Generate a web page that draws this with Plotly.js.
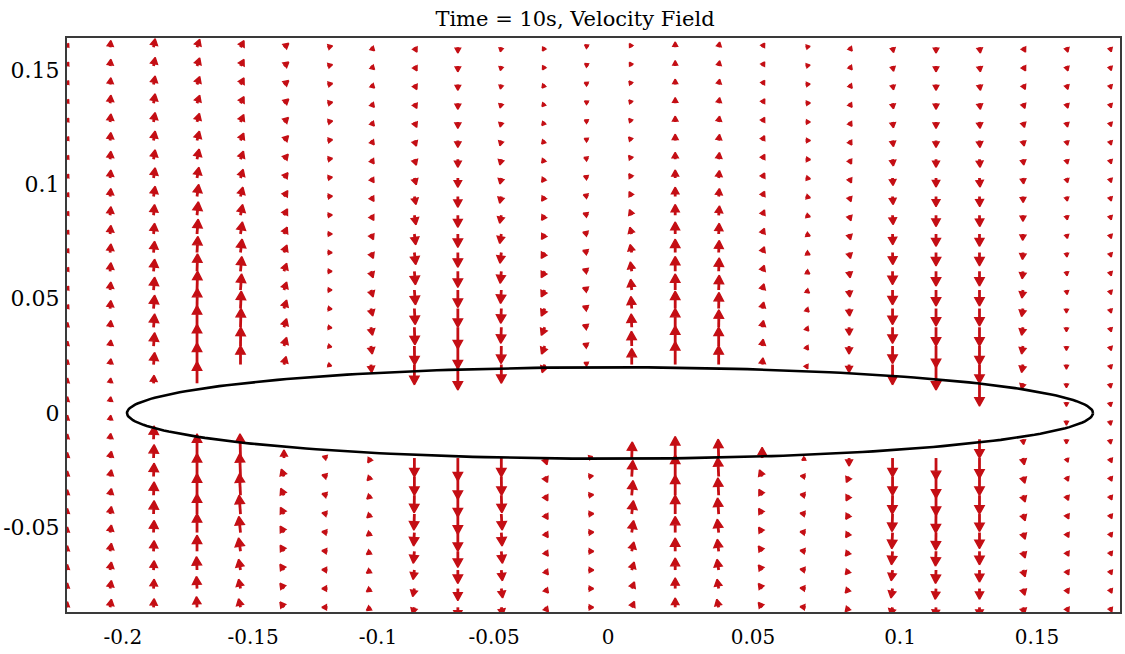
<!DOCTYPE html>
<html><head><meta charset="utf-8">
<script src="https://cdn.plot.ly/plotly-3.0.1.min.js"></script>
<style>html,body{margin:0;padding:0;background:#fff;}#chart{width:1125px;height:654px;}</style>
</head><body><div id="chart"></div>
<script>
// ---- data ----
const titleText = 'Time = 10s, Velocity Field';
const xGrid = [-0.225,-0.207,-0.189,-0.171,-0.153,-0.135,-0.117,-0.099,-0.081,-0.063,-0.045,-0.027,-0.009,0.009,0.027,0.045,0.063,0.081,0.099,0.117,0.135,0.153,0.171,0.189,0.207];
const yGrid = [0.1600,0.1518,0.1437,0.1355,0.1273,0.1192,0.1110,0.1028,0.0947,0.0865,0.0783,0.0702,0.0620,0.0538,0.0457,0.0375,0.0293,0.0212,0.0130,0.0048,-0.0033,-0.0115,-0.0197,-0.0278,-0.0360,-0.0442,-0.0523,-0.0605,-0.0687,-0.0768,-0.0850];
// vertical component per column (top row first)
const vCols = [
[0.6,0.6,0.6,0.6,0.6,0.6,0.6,0.6,0.6,0.6,0.6,0.6,0.6,0.6,0.6,1.2,1.2,1.2,1.5,1.5,1.5,1.5,1.8,1.8,1.8,1.8,1.8,1.8,1.8,1.8,1.8],
[2.5,2.5,2.5,3,3,3,3,3,3,3.2,3.2,3.2,3.2,3,3,2.5,2.2,2,1.5,1.5,1.5,2,2.5,2.5,2.5,2.8,2.8,3,3,3,3],
[3.2,3.2,3.2,3.5,3.5,3.5,3.5,3.8,3.8,4,4,4.2,4.5,4.8,5,5,5,4.5,3,0,0,5,5,5,5,5,4.5,4,3.5,3.5,3.2],
[3,3,3,3,3.2,3.5,3.8,4,4.5,5,5.5,6,6.5,7,7.5,8,8,8,8,0,0,0,9,8.5,8,7.5,7,6,5,4.5,4],
[2.5,2.5,2.5,2.5,2.8,2.8,3,3.2,3.5,4,4.5,5,5.5,6,6.5,7,7,7,0,0,0,0,9,8.5,8,7,6,5,4,3.5,3.2],
[1.5,1.5,1.5,1.6,1.7,1.8,1.9,2,2.2,2.4,2.6,2.8,3,3,3.2,3.2,3.2,3,0,0,0,0,3,2.8,2.6,2.5,2.4,2.3,2.2,2,2],
[0.4,0.4,0.3,0.3,0.3,0.2,0.2,0.2,0.1,0.1,0,0,0,0,-0.1,-0.1,-0.2,-0.2,0,0,0,0,0.5,0.5,0.5,0.4,0.3,0.2,0.1,0,0],
[-1,-1,-1,-1.2,-1.2,-1.3,-1.4,-1.5,-1.6,-1.8,-2,-2.2,-2.4,-2.6,-2.8,-3,-3,-3,0,0,0,0,-1.5,-1.3,-1.2,-1.2,-1.1,-1,-1,-1,-1],
[-1.5,-1.5,-1.6,-1.7,-1.8,-2,-2.2,-2.5,-3,-3.5,-4,-4.5,-5,-5.5,-6,-6.5,-7,-7.5,0,0,0,0,-7,-7,-6.5,-6,-5,-4.5,-3.5,-3,-2.5],
[-2,-2,-2,-2.2,-2.4,-2.6,-3,-3.5,-4,-4.5,-5,-5.5,-6,-6.5,-7,-8,-8.5,-9.5,0,0,0,0,-8.5,-8.5,-8,-7.5,-7,-6,-5,-4.5,-4],
[-1,-1,-1,-1.2,-1.3,-1.5,-2,-2.2,-2.5,-3,-3.5,-4,-4.5,-5,-5.5,-6,-6.5,-7,0,0,0,0,-7,-7,-6.5,-6,-5,-4.5,-4,-3.5,-3],
[-0.5,-0.5,-0.5,-0.6,-0.7,-0.8,-1,-1.2,-1.5,-1.7,-2,-2.2,-2.4,-2.6,-2.8,-3,-3,-3,0,0,0,0,-2.5,-2.2,-2,-2,-1.8,-1.7,-1.6,-1.5,-1.5],
[0.2,0.2,0.2,0.3,0.3,0.4,0.4,0.5,0.5,0.6,0.6,0.7,0.7,0.8,0.8,0.8,0.8,0.5,0,0,0,0,0.3,0.2,0.2,0.1,0.1,0,0,0,0],
[0.5,0.5,0.5,0.6,0.7,0.8,1,1.2,1.5,2,2.5,3,3.5,4,4.5,5,5.5,6,0,0,0,0,6,6,5.5,5,4.5,3.5,3,2.5,2.2],
[1.5,1.5,1.6,1.8,2,2.3,2.6,3,3.5,4,4.5,5,5.5,6,6.5,7,7.5,8.5,0,0,0,0,8,8,7.5,7,6,5,4.5,4,3.5],
[1.5,1.5,1.6,1.8,2,2.2,2.5,2.8,3,3.5,4,4.5,5,5.5,6,6.5,7,7,0,0,0,0,7,7,6.5,6,5,4.5,4,3.5,3],
[1,1,1,1.2,1.3,1.4,1.5,1.6,1.7,1.8,2,2.1,2.2,2.3,2.4,2.5,2.5,2.5,0,0,0,0,4,2.5,2.2,2.1,2,2,1.9,1.9,1.8],
[0.2,0.2,0.1,0.1,0,0,-0.1,-0.2,-0.3,-0.4,-0.5,-0.6,-0.7,-0.8,-0.9,-1,-1,-1,0,0,0,0,-0.3,0.2,0.3,0.3,0.3,0.3,0.3,0.2,0.2],
[-1,-1,-1,-1.1,-1.2,-1.3,-1.4,-1.5,-1.6,-1.8,-2,-2.2,-2.4,-2.6,-2.8,-3,-3,-3,0,0,0,0,-3,-2.2,-2,-1.9,-1.8,-1.7,-1.6,-1.5,-1.5],
[-1.5,-1.5,-1.6,-1.8,-2,-2.2,-2.5,-2.8,-3,-3.5,-4,-4.5,-5,-5.5,-6,-6,-6.5,-7.5,0,0,0,0,-7,-7,-7,-6.5,-6,-5,-4,-3.5,-3],
[-2,-2,-2,-2.2,-2.4,-2.6,-3,-3.4,-3.8,-4.2,-4.6,-5,-5.5,-6,-6.5,-7,-8,-9.5,0,0,0,0,-8,-8,-7.5,-7,-6.5,-5.5,-5,-4,-3.5],
[-2,-2,-2,-2.2,-2.4,-2.6,-3,-3.4,-3.8,-4.2,-4.6,-5,-5.5,-6,-6.5,-7,-7,-7,-8.5,0,0,-7,-7.5,-7,-7,-6.5,-6,-5,-4.5,-4,-3.5],
[-1.5,-1.5,-1.5,-1.6,-1.7,-1.8,-1.9,-2,-2.1,-2.2,-2.4,-2.6,-2.8,-3,-3,-3,-3,-3,-2,0,0,-1.5,-2.5,-2.5,-2.5,-2.5,-2.5,-2.5,-2.5,-2.5,-2.5],
[-1.3,-1.3,-1.3,-1.3,-1.3,-1.2,-1.2,-1.1,-1,-1,-0.9,-0.8,-0.7,-0.6,-0.5,-0.5,-0.4,-0.4,-0.4,-0.3,-0.3,-0.4,-0.8,-1.2,-1.5,-1.5,-1.5,-1.5,-1.5,-1.5,-1.5],
[-1,-1,-1,-1,-1,-1,-1,-1,-1,-1,-1,-1,-1,-1,-1,-1,-1,-1,-1,-1,-1,-1,-1.2,-1.2,-1.2,-1.2,-1.2,-1.2,-1.2,-1.2,-1.2]
];
// horizontal component per column (top row first)
const uCols = [
[0.3,0.3,0.3,0.3,0.3,0.3,0.3,0.3,0.3,0.3,0.3,0.3,0.3,0.3,0.3,0.3,0.3,0.3,0.3,0.3,0.3,0.3,0.3,0.3,0.3,0.3,0.3,0.3,0.3,0.3,0.3],
[0.3,0.3,0.3,0.3,0.3,0.3,0.3,0.3,0.3,0.3,0.3,0.3,0.3,0.3,0.3,0.3,0.3,0.3,0.2,0.2,0.2,0.2,0.5,0.5,0.5,0.5,0.5,0.5,0.5,0.5,0.5],
[0.6,0.6,0.6,0.6,0.6,0.6,0.6,0.6,0.6,0.4,0.4,0.4,0.4,0.4,0.4,0.4,0.4,0.4,0.2,0,0,0.2,0.2,0.2,0.2,0.2,0.2,0.2,0.2,0.2,0.2],
[1,1,1,1,0.9,0.9,0.8,0.7,0.6,0.5,0.4,0.3,0.2,0.2,0.1,0,0,0,0,0,0,0,0,0,0,0,0,0,-0.2,-0.2,-0.2],
[1.3,1.3,1.3,1.3,1.2,1.2,1.1,1,0.9,0.8,0.7,0.6,0.5,0.4,0.3,0.2,0.1,0,0,0,0,0,-0.2,-0.3,-0.4,-0.5,-0.6,-0.7,-0.7,-0.7,-0.7],
[1.8,1.8,1.8,1.8,1.7,1.7,1.6,1.5,1.4,1.3,1.2,1.1,1,1,1,1,1,0.8,0,0,0,0,0,-1,-1.2,-1.3,-1.4,-1.4,-1.5,-1.5,-1.5],
[1.5,1.5,1.5,1.5,1.5,1.4,1.4,1.3,1.3,1.2,1.2,1.1,1,1,1,0.9,0.8,0.6,0,0,0,0,-1.5,-1.8,-1.8,-1.8,-1.8,-1.8,-1.8,-1.8,-1.8],
[1,1,1,1,1,1,1,1,1,1,0.9,0.9,0.8,0.8,0.7,0.6,0.5,0.3,0,0,0,0,-1,-1.2,-1.3,-1.3,-1.4,-1.4,-1.4,-1.4,-1.4],
[0.8,0.8,0.8,0.8,0.8,0.7,0.7,0.7,0.6,0.6,0.5,0.5,0.4,0.4,0.3,0.2,0.1,0,0,0,0,0,0,0,-0.1,-0.2,-0.3,-0.4,-0.5,-0.6,-0.7],
[0,0,0,0,0,0,0,0,0,0,0,0,0,0,0,0,0,0,0,0,0,0,0,0,0,0,0,0,0,0,0],
[-0.2,-0.2,-0.2,-0.3,-0.3,-0.4,-0.5,-0.5,-0.6,-0.6,-0.6,-0.5,-0.4,-0.3,-0.2,-0.2,-0.1,0,0,0,0,0,0,0.1,0.2,0.3,0.3,0.4,0.4,0.5,0.5],
[-0.3,-0.3,-0.4,-0.5,-0.6,-0.7,-0.8,-0.9,-1,-1.1,-1.2,-1.3,-1.3,-1.3,-1.3,-1.3,-1.2,-1,0,0,0,0,0.8,1,1.1,1.2,1.2,1.2,1.2,1.2,1.2],
[-0.3,-0.3,-0.4,-0.5,-0.6,-0.8,-1,-1.2,-1.4,-1.6,-1.8,-1.9,-2,-2,-2,-2,-1.8,-1,0,0,0,0,1,1.4,1.6,1.7,1.7,1.7,1.7,1.6,1.6],
[-0.3,-0.3,-0.4,-0.5,-0.6,-0.7,-0.8,-0.8,-0.8,-0.8,-0.7,-0.6,-0.5,-0.4,-0.3,-0.2,-0.1,0,0,0,0,0,0.2,0.4,0.5,0.6,0.7,0.8,0.9,1,1],
[0,0,0,0,0,0,0,0,0,0,0,0,0,0,0,0,0,0,0,0,0,0,0,0,0,0,0,0,0,0,0],
[0.3,0.3,0.3,0.3,0.3,0.3,0.3,0.3,0.3,0.3,0.2,0.2,0.2,0.2,0.1,0.1,0,0,0,0,0,0,-0.2,-0.3,-0.3,-0.4,-0.5,-0.5,-0.6,-0.6,-0.7],
[0.6,0.6,0.6,0.7,0.7,0.7,0.8,0.8,0.8,0.8,0.8,0.8,0.8,0.7,0.6,0.5,0.4,0.3,0,0,0,0,0,-1,-1.2,-1.3,-1.3,-1.4,-1.4,-1.4,-1.4],
[1,1,1,1.1,1.1,1.2,1.2,1.2,1.2,1.2,1.2,1.2,1.1,1,0.9,0.8,0.7,0.5,0,0,0,0,-0.5,-1.5,-1.7,-1.8,-1.8,-1.8,-1.8,-1.8,-1.8],
[0.8,0.8,0.8,0.8,0.8,0.8,0.7,0.7,0.6,0.6,0.5,0.5,0.4,0.3,0.2,0.1,0,0,0,0,0,0,0,-1,-1.1,-1.2,-1.2,-1.3,-1.3,-1.3,-1.3],
[0.3,0.3,0.3,0.3,0.3,0.3,0.3,0.2,0.2,0.2,0.1,0.1,0,0,0,0,0,0,0,0,0,0,0,0,-0.1,-0.2,-0.3,-0.4,-0.5,-0.6,-0.7],
[0,0,0,0,0,0,0,0,0,0,0,0,0,0,0,0,0,0,0,0,0,0,0,0,0,-0.1,-0.1,-0.2,-0.2,-0.3,-0.3],
[0.3,0.3,0.3,0.3,0.2,0.2,0.2,0.2,0.1,0.1,0,0,0,0,0,0,0,0,0,0,0,0,0,0,0,0,0,0,0,0,0],
[0.8,0.8,0.7,0.6,0.5,0.4,0.3,0.2,0.1,0,-0.1,-0.2,-0.3,-0.4,-0.5,-0.5,-0.5,-0.5,-0.5,0,0,0.2,0.5,0.7,0.8,0.8,0.8,0.8,0.8,0.7,0.6],
[0.4,0.4,0.4,0.4,0.3,0.3,0.3,0.3,0.2,0.2,0.2,0.1,0.1,0.1,0,0,0,0,0,0,0,0,0.3,0.5,0.6,0.7,0.7,0.7,0.7,0.7,0.7],
[0.3,0.3,0.3,0.3,0.3,0.3,0.3,0.3,0.3,0.3,0.3,0.3,0.3,0.3,0.3,0.3,0.3,0.3,0.2,0.2,0.2,0.2,0.5,0.5,0.5,0.5,0.5,0.5,0.5,0.5,0.5]
];
// obstacle (ellipse) semi-axes
const ellipseA = 0.2, ellipseB = 0.02;
// tick labels
const xTickText = ['-0.2','-0.15','-0.1','-0.05','0','0.05','0.1','0.15'];
const xTickAt   = [-0.2017,-0.1478,-0.0961,-0.0480,-0.0008,0.0592,0.1201,0.1768];
const yTickText = ['-0.05','0','0.05','0.1','0.15'];
const yTickAt   = [-0.05,0,0.05,0.1,0.15];

// ---- layout constants ----
const W = 1125, H = 654, mL = 67, mR = 5, mT = 38, mB = 42;
const xRange = [-0.22484, 0.21118], yRange = [-0.08705, 0.16404];
const sx = (W - mL - mR) / (xRange[1] - xRange[0]);
const sy = (H - mT - mB) / (yRange[1] - yRange[0]);
const unitPx = 2.7;

const shX = [], shY = [], hdX = [], hdY = [];
for (let c = 0; c < xGrid.length; c++) {
  for (let r = 0; r < yGrid.length; r++) {
    const u = uCols[c][r], v = vCols[c][r];
    if (u === 0 && v === 0) continue;
    const x0 = xGrid[c], y0 = yGrid[r];
    const dxp = u * unitPx, dyp = v * unitPx;
    const L = Math.hypot(dxp, dyp);
    const ex = dxp / L, ey = dyp / L;
    const h = Math.max(3.5, Math.min(8.5, 0.45 * L + 2.5));
    const w = 0.55 * h;
    const Ld = Math.max(L, h + 1);
    const tx = ex * Ld, ty = ey * Ld;
    const bx = tx - h * ex, by = ty - h * ey;
    shX.push(x0, x0 + bx / sx, null);
    shY.push(y0, y0 + by / sy, null);
    const lx = bx - w * ey, ly = by + w * ex;
    const rx = bx + w * ey, ry = by - w * ex;
    hdX.push(x0 + tx / sx, x0 + lx / sx, x0 + rx / sx, x0 + tx / sx, null);
    hdY.push(y0 + ty / sy, y0 + ly / sy, y0 + ry / sy, y0 + ty / sy, null);
  }
}
const eX = [], eY = [];
for (let i = 0; i <= 240; i++) {
  const t = 2 * Math.PI * i / 240;
  eX.push(ellipseA * Math.cos(t));
  eY.push(ellipseB * Math.sin(t));
}
const red = '#c40e14';
const traces = [
  {type:'scatter', mode:'lines', x: shX, y: shY, line:{color: red, width: 2.8}, hoverinfo:'skip', connectgaps:false},
  {type:'scatter', mode:'lines', x: hdX, y: hdY, fill:'toself', fillcolor: red, line:{color: red, width: 1.4}, hoverinfo:'skip', connectgaps:false},
  {type:'scatter', mode:'lines', x: eX, y: eY, line:{color:'#000', width: 2.6}, hoverinfo:'skip'}
];
const layout = {
  width: W, height: H,
  margin: {l: mL, r: mR, t: mT, b: mB, pad: 0},
  paper_bgcolor: '#fff', plot_bgcolor: '#fff',
  showlegend: false,
  title: {text: titleText, x: 575 / W, xref: 'container', xanchor: 'center', y: 1 - 19 / H, yref: 'container', yanchor: 'middle',
          font: {family: 'DejaVu Serif', size: 21, color: '#000'}},
  xaxis: {range: xRange, showgrid: false, zeroline: false, showline: true, mirror: true, linecolor: '#3a3a3a', linewidth: 2,
          ticks: '', tickvals: xTickAt, ticktext: xTickText, tickfont: {family: 'DejaVu Serif', size: 20, color: '#000'}, ticklabelstandoff: 6},
  yaxis: {range: yRange, showgrid: false, zeroline: false, showline: true, mirror: true, linecolor: '#3a3a3a', linewidth: 2,
          ticks: '', tickvals: yTickAt, ticktext: yTickText, tickfont: {family: 'DejaVu Serif', size: 22, color: '#000'}, ticklabelstandoff: 1}
};
Plotly.newPlot('chart', traces, layout, {staticPlot: true, displayModeBar: false});
</script></body></html>
